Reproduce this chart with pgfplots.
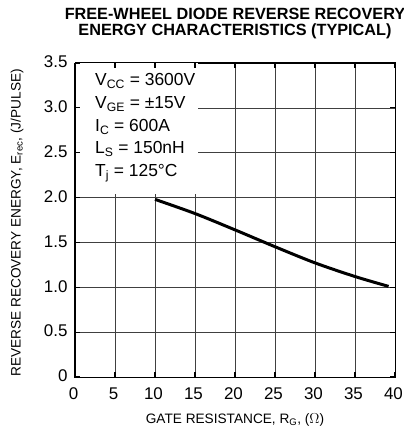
\documentclass[border=0pt]{standalone}
\usepackage{fontspec}
\setmainfont{Liberation Sans}
\usepackage{pgfplots}
\pgfplotsset{compat=1.18}
\begin{document}
\begin{tikzpicture}
\pgfplotsset{
  common/.style={
    scale only axis, width=320bp, height=314bp,
    at={(0bp,0bp)}, anchor=south west,
    xmin=0, xmax=40, ymin=0, ymax=3.5,
    xtick={0,5,...,40},
    ytick={0,0.5,1.0,1.5,2.0,2.5,3.0,3.5},
    major tick length=5bp,
    tick style={black, line width=1.1bp},
    axis line style={black, line width=1bp},
    /pgf/number format/assume math mode=true,
  }
}
\begin{axis}[common,
  grid=major,
  grid style={black!75, line width=0.7bp},
  yticklabels={0,0.5,1.0,1.5,2.0,2.5,3.0,3.5},
  xticklabels={0,5,10,15,20,25,30,35,40},
  ticklabel style={font=\fontsize{17}{19}\selectfont},
  yticklabel style={xshift=-4bp, yshift=1bp},
  xticklabel style={yshift=-7bp, xshift=-1.5bp},
]
\fill[white] (axis cs:0,2.04) rectangle (axis cs:15.4,3.5);
\addplot[black, line width=3bp, no marks, smooth, tension=0.5] coordinates {
  (10,1.98) (15,1.822) (20,1.64) (25,1.452) (30,1.272) (35,1.12) (39.2,1.01)
};
\end{axis}
\begin{axis}[common,
  xticklabels={}, yticklabels={},
]
\end{axis}
\begin{scope}[every node/.style={font=\fontsize{17.5}{19}\selectfont, anchor=base west, inner sep=0pt}]
\node at (20bp,291bp) {V\textsubscript{CC} = 3600V};
\node at (20bp,268bp) {V\textsubscript{GE} = ±15V};
\node at (20bp,245bp) {I\textsubscript{C} = 600A};
\node at (20bp,223bp) {L\textsubscript{S} = 150nH};
\node at (20bp,200bp) {T\textsubscript{j} = 125°C};
\end{scope}
\node[align=center, font=\fontsize{16.3}{17}\bfseries\selectfont] at (160bp,353.5bp) {FREE-WHEEL DIODE REVERSE RECOVERY\\ENERGY CHARACTERISTICS (TYPICAL)};
\node[font=\fontsize{13.7}{15}\selectfont] at (160bp,-43bp) {GATE RESISTANCE, R\textsubscript{G}, ($\Omega$)};
\node[rotate=90, font=\fontsize{13.7}{15}\selectfont] at (-58bp,154bp) {REVERSE RECOVERY ENERGY, E\textsubscript{rec}, (J/PULSE)};
\pgfresetboundingbox
\path (-75bp,-51bp) rectangle (329bp,377bp);
\end{tikzpicture}
\end{document}
